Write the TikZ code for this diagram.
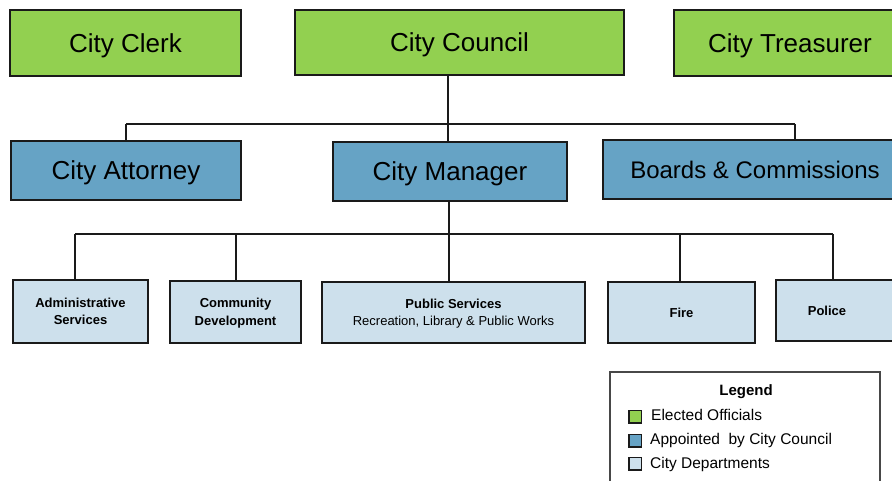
\documentclass[tikz,border=0pt]{standalone}
\usepackage{fontspec}
\setmainfont{Liberation Sans}
\definecolor{cgreen}{HTML}{92D050}
\definecolor{cblue}{HTML}{66A3C5}
\definecolor{clight}{HTML}{CDE0EC}
\definecolor{cline}{HTML}{1A1A1A}
\tikzset{
  box/.style={draw=cline, line width=1.6pt, rectangle, inner sep=0pt, align=center, text depth=0pt},
  elected/.style={box, fill=cgreen, font=\fontsize{26}{30}\selectfont},
  appointed/.style={box, fill=cblue, font=\fontsize{26}{30}\selectfont},
  dept/.style={box, fill=clight, font=\bfseries\fontsize{13}{17.5}\selectfont},
  conn/.style={draw=cline, line width=1.6pt},
  key/.style={draw=cline, line width=1.5pt, minimum width=12.5pt, minimum height=12.5pt, inner sep=0pt},
  keytext/.style={anchor=base west, inner sep=0pt, font=\fontsize{15.5}{18}\selectfont}
}
\begin{document}
\begin{tikzpicture}[x=1pt,y=-1pt]
\useasboundingbox (0,0) rectangle (892,480);
\clip (0,0) rectangle (892,480);
% top row
\node[elected, minimum width=231pt, minimum height=66pt] (clerk) at (125.5,43) {City Clerk};
\node[elected, minimum width=329pt, minimum height=65pt] (council) at (459.5,42.5) {City Council};
\node[elected, minimum width=232pt, minimum height=66pt] (treasurer) at (790,43) {City Treasurer};
% second row
\node[appointed, minimum width=230pt, minimum height=59pt] (attorney) at (126,170.5) {City Attorney};
\node[appointed, minimum width=234pt, minimum height=59pt] (manager) at (450,171.5) {City Manager};
\node[appointed, minimum width=304pt, minimum height=59pt, font=\fontsize{24}{28}\selectfont] (boards) at (755,169.5) {Boards \& Commissions};
% third row
\node[dept, minimum width=135pt, minimum height=63pt] (admin) at (80.5,311.5) {Administrative\\Services};
\node[dept, minimum width=131pt, minimum height=62pt] (community) at (235.5,312) {Community\\Development};
\node[dept, minimum width=263pt, minimum height=61pt] (public) at (453.5,312.5) {Public Services\\{\mdseries Recreation, Library \& Public Works}};
\node[dept, minimum width=147pt, minimum height=61pt] (fire) at (681.5,312.5) {Fire};
\node[dept, minimum width=130pt, minimum height=61pt] (police) at (841,310.5) {};
\node[inner sep=0pt, text depth=0pt, font=\bfseries\fontsize{13}{18}\selectfont] (policeT) at (827,310.5) {Police};
% connectors level 1
\coordinate (jA) at (126,124);
\coordinate (jM) at (448,124);
\coordinate (jB) at (795,124);
\draw[draw=cline, line width=1.3pt] (council.south -| jM) -- (jM);
\draw[conn] (jA) -- (jB);
\draw[conn] (jA) -- (jA |- attorney.north);
\draw[conn] (jM) -- (jM |- manager.north);
\draw[conn] (jB) -- (jB |- boards.north);
% connectors level 2
\coordinate (k0) at (449,234);
\coordinate (kA) at (75,234);
\coordinate (kC) at (236,234);
\coordinate (kF) at (680,234);
\coordinate (kP) at (833,234);
\draw[conn] (manager.south -| k0) -- (k0);
\draw[conn] (kA) -- (kP);
\draw[conn] (kA) -- (kA |- admin.north);
\draw[conn] (kC) -- (kC |- community.north);
\draw[conn] (k0) -- (k0 |- public.north);
\draw[conn] (kF) -- (kF |- fire.north);
\draw[conn] (kP) -- (kP |- police.north);
% legend
\node[draw=cline!80, line width=1.3pt, fill=white, minimum width=270pt, minimum height=130pt, inner sep=0pt] (legend) at (745,437) {};
\node[font=\bfseries\fontsize{15}{18}\selectfont, inner sep=0pt, text depth=0pt] (legendT) at (746,390) {Legend};
\node[key, fill=cgreen] (k1) at (635,416.7) {};
\node[keytext] (t1) at (651,420) {Elected Officials};
\node[key, fill=cblue] (k2) at (635,440.7) {};
\node[keytext] (t2) at (650,444.5) {Appointed\ \ by City Council};
\node[key, fill=clight] (k3) at (635,463.5) {};
\node[keytext] (t3) at (650,468.5) {City Departments};
\end{tikzpicture}
\end{document}
